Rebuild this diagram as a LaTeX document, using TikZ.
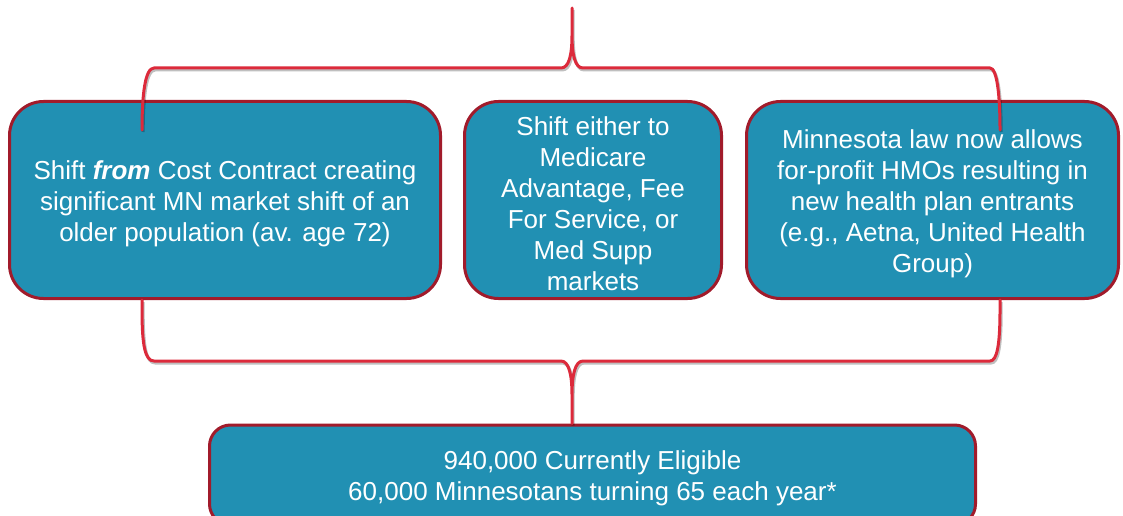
\documentclass[tikz,border=0pt]{standalone}
\usepackage{fontspec}
\setmainfont{Liberation Sans}
\definecolor{boxfill}{HTML}{2190B3}
\definecolor{boxline}{HTML}{A11B2B}
\definecolor{bracered}{HTML}{DC2A3B}
\newcommand\mytopstrut{\rule{0pt}{25.5pt}}
\begin{document}
\begin{tikzpicture}[x=1pt,y=-1pt,
  box/.style={draw=boxline, line width=3pt, fill=boxfill, text=white, align=center,
    font=\fontsize{26}{31}\selectfont, inner sep=0pt},
  topbox/.style={box, rounded corners=34pt},
  botbox/.style={box, rounded corners=21pt},
  brace/.style={draw=bracered, line width=3pt, line join=round, line cap=round,
    preaction={draw=black, opacity=.25, line width=3pt,
      transform canvas={shift={(1.2pt,-2pt)}}}}]
\useasboundingbox (0,0) rectangle (1123,516);
\clip (0,0) rectangle (1123,516);

\node[topbox, minimum width=431pt, minimum height=197pt] (b1) at (225,200)
  {\mytopstrut Shift \textbf{\textit{from}} Cost Contract creating\\significant MN market shift of an\\older population (av. age 72)};
\node[topbox, minimum width=257pt, minimum height=197pt] (b2) at (593,200)
  {\mytopstrut Shift either to\\Medicare\\Advantage, Fee\\For Service, or\\Med Supp\\markets};
\node[topbox, minimum width=372pt, minimum height=197pt] (b3) at (932.5,200)
  {\mytopstrut Minnesota law now allows\\for-profit HMOs resulting in\\new health plan entrants\\(e.g., Aetna, United Health\\Group)};
\node[botbox, minimum width=766pt, minimum height=100pt] (bot) at (592.5,475)
  {\mytopstrut 940,000 Currently Eligible\\60,000 Minnesotans turning 65 each year*};

% top brace
\coordinate (tl) at (142,130);
\coordinate (tr) at (1000,130);
\coordinate (tc) at (572,8);
\draw[brace] (tl) .. controls (142,95) and (145,68) .. (154,68) -- (561,68)
  .. controls (569,68) and (572,55) .. (572,35) -- (tc)
  -- (572,35) .. controls (572,55) and (575,68) .. (583,68) -- (990,68)
  .. controls (997,68) and (1000,95) .. (tr);

% bottom brace
\coordinate (bl) at (b1.south -| tl);
\coordinate (br) at (b3.south -| tr);
\coordinate (bc) at (bot.north -| tc);
\draw[brace] (bl) -- (142,310) .. controls (142,345) and (145,361) .. (154,361) -- (561,361)
  .. controls (569,361) and (572,375) .. (572,395) -- (bc)
  -- (572,395) .. controls (572,375) and (575,361) .. (583,361) -- (990,361)
  .. controls (997,361) and (1000,345) .. (1000,310) -- (br);
\end{tikzpicture}
\end{document}
